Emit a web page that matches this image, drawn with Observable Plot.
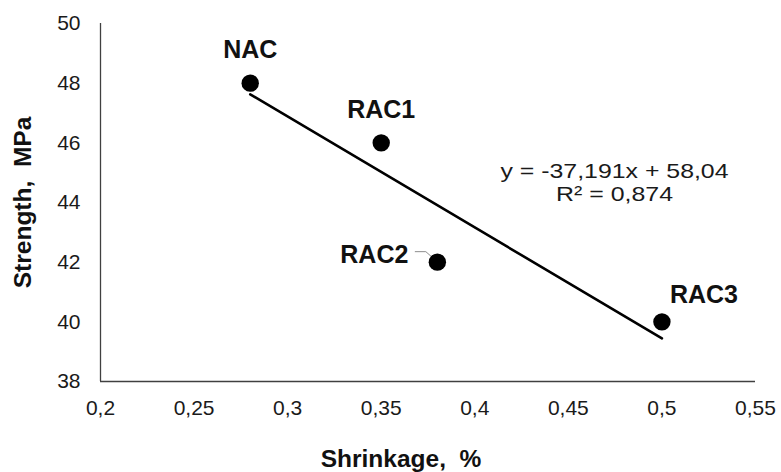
<!DOCTYPE html>
<html>
<head>
<meta charset="utf-8">
<script src="https://cdn.jsdelivr.net/npm/d3@7"></script>
<script src="https://cdn.jsdelivr.net/npm/@observablehq/plot@0.6"></script>
<style>
  html, body { margin: 0; padding: 0; background: #fff; }
  #chart svg { font-family: "Liberation Sans", Arial, sans-serif; display: block; }
</style>
</head>
<body>
<div id="chart"></div>
<script>
// ---- data ----
const labels = ["NAC", "RAC1", "RAC2", "RAC3"];
const shrinkage = [0.28, 0.35, 0.38, 0.5];   // %
const strength = [48, 46, 42, 40];            // MPa
const xTicks = [0.2, 0.25, 0.3, 0.35, 0.4, 0.45, 0.5, 0.55];
const yTicks = [38, 40, 42, 44, 46, 48, 50];
const slope = -37.191;
const intercept = 58.04;
const rSquared = 0.874;
const xTitle = "Shrinkage,\u00a0 %";
const yTitle = "Strength,\u00a0 MPa";

// ---- derived tables ----
const comma = v => String(v).replace(".", ",");
const points = labels.map((label, i) => ({label, x: shrinkage[i], y: strength[i]}));
const trend = d3.extent(shrinkage).map(x => ({x, y: slope * x + intercept}));
const eq1 = `y = ${comma(slope)}x + ${comma(intercept)}`;
const eq2 = `R² = ${comma(rSquared)}`;

const font = '"Liberation Sans", Arial, sans-serif';
const above = points.filter(d => d.label === "NAC" || d.label === "RAC1");
const left = points.filter(d => d.label === "RAC2");
const right = points.filter(d => d.label === "RAC3");

const chart = Plot.plot({
  width: 781,
  height: 472,
  marginLeft: 100,
  marginRight: 26,
  marginTop: 23,
  marginBottom: 91,
  style: {fontFamily: font, fontSize: "21px", color: "#1a1a1a", background: "#fff", overflow: "visible"},
  x: {domain: [0.2, 0.55], ticks: xTicks, tickFormat: comma, tickSize: 0, tickPadding: 19, label: null},
  y: {domain: [38, 50], ticks: yTicks, tickSize: 0, tickPadding: 20, label: null},
  marks: [
    Plot.ruleX([0.2], {stroke: "#404040", strokeWidth: 1.3}),
    Plot.ruleY([38], {stroke: "#404040", strokeWidth: 1.3}),
    Plot.line(trend, {x: "x", y: "y", stroke: "#000", strokeWidth: 2.6}),
    Plot.dot(points, {x: "x", y: "y", r: 8.7, fill: "#000"}),
    Plot.text(above, {x: "x", y: "y", text: "label", textAnchor: "middle", lineAnchor: "bottom", dy: -25,
      fontSize: 25, fontWeight: "bold", fill: "#111"}),
    Plot.text(left, {x: "x", y: "y", text: "label", textAnchor: "end", lineAnchor: "bottom", dx: -29, dy: 1,
      fontSize: 25, fontWeight: "bold", fill: "#111"}),
    Plot.text(right, {x: "x", y: "y", text: "label", textAnchor: "start", lineAnchor: "bottom", dx: 8, dy: -18.5,
      fontSize: 25, fontWeight: "bold", fill: "#111"}),
    Plot.text([{t: eq1}], {text: "t", frameAnchor: "top-left", dx: 514, dy: 154, textAnchor: "middle",
      lineAnchor: "bottom", fontSize: 21, fill: "#1a1a1a", className: "eq1"}),
    Plot.text([{t: eq2}], {text: "t", frameAnchor: "top-left", dx: 514, dy: 177, textAnchor: "middle",
      lineAnchor: "bottom", fontSize: 21, fill: "#1a1a1a", className: "eq2"}),
    Plot.text([{t: xTitle}], {text: "t", frameAnchor: "bottom", dx: -27, dy: 85.5, textAnchor: "middle",
      lineAnchor: "bottom", fontSize: 24.5, fontWeight: "bold", fill: "#111"}),
    Plot.text([{t: yTitle}], {text: "t", frameAnchor: "left", dx: -69.5, rotate: -90, textAnchor: "middle",
      lineAnchor: "bottom", fontSize: 24.5, fontWeight: "bold", fill: "#111"})
  ]
});

document.getElementById("chart").appendChild(chart);

// widen the trendline equation glyphs like the reference's text box
const stretch = (cls, len) => {
  chart.querySelectorAll(`.${cls} text`).forEach(t => {
    t.setAttribute("textLength", len);
    t.setAttribute("lengthAdjust", "spacingAndGlyphs");
  });
};
stretch("eq1", 228);
stretch("eq2", 117);

// thin leader line from the RAC2 label to its point
try {
  const sx = chart.scale("x"), sy = chart.scale("y");
  const p = points.find(d => d.label === "RAC2");
  const px = sx.apply(p.x), py = sy.apply(p.y);
  const path = document.createElementNS("http://www.w3.org/2000/svg", "path");
  path.setAttribute("d", `M${px - 22},${py - 10}H${px - 11}L${px - 2},${py - 2}`);
  path.setAttribute("fill", "none");
  path.setAttribute("stroke", "#8c8c8c");
  path.setAttribute("stroke-width", "1");
  const dots = chart.querySelector("g[aria-label='dot']");
  chart.insertBefore(path, dots);
} catch (e) {}
</script>
</body>
</html>
